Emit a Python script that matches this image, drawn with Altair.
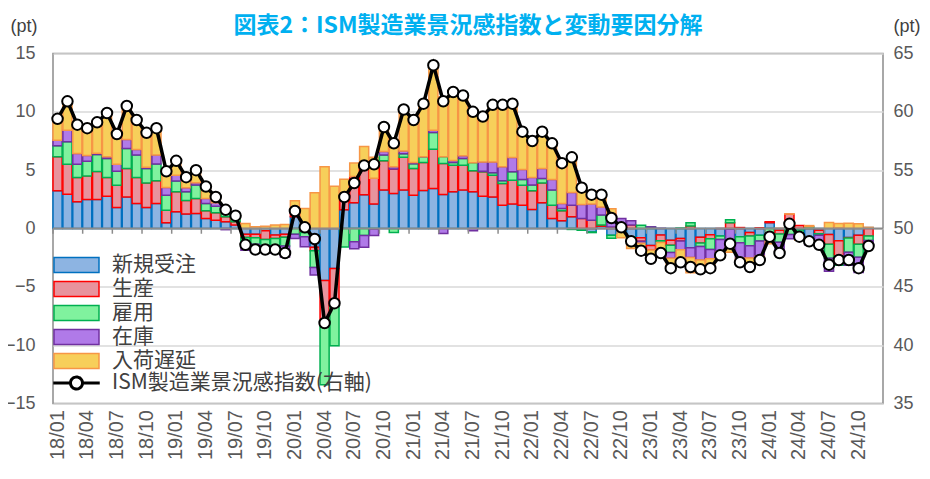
import altair as alt
import pandas as pd

months = [f"{y:02d}/{m:02d}" for y in range(18, 25) for m in range(1, 13)]
tick_labels = [m for m in months if m[3:] in ("01", "04", "07", "10")]
series = ["新規受注", "生産", "雇用", "在庫", "入荷遅延"]
line_name = "ISM製造業景況感指数(右軸)"

new_orders = [3.23, 2.94, 2.29, 2.49, 2.49, 2.77, 1.80, 2.71, 2.14, 1.80, 2.14, 0.49,
              1.43, 1.25, 1.29, 0.86, 0.71, 0.57, 0.29, -0.49, -0.50, -0.20, -0.55, -0.50,
              1.00, -0.20, -1.60, -4.45, -3.43, 1.60, 2.20, 2.90, 2.10, 3.30, 3.00, 3.30,
              2.85, 3.25, 3.43, 2.91, 3.14, 3.29, 3.14, 2.77, 2.71, 2.00, 2.09, 2.00,
              1.63, 2.20, 0.86, 0.66, 1.00, -0.05, -0.30, 0.20, -0.58, -0.16, -0.70, -0.80,
              -1.45, -0.55, -1.00, -0.86, -1.65, -0.75, -0.54, -0.64, -0.07, -0.70, -0.34, -0.58,
              0.50, -0.16, 0.28, -0.12, -1.00, -0.14, -0.52, -1.05, -0.78, -0.58, 0.08, None]
production = [2.91, 2.57, 2.08, 2.00, 2.40, 1.60, 1.91, 2.43, 2.23, 2.11, 1.95, 1.08,
              1.71, 1.15, 1.29, 0.66, 0.63, 0.43, 0.28, -0.28, -0.30, -0.75, -0.30, -0.25,
              0.57, -0.15, -0.30, -3.75, -3.00, 1.10, 2.25, 2.30, 2.20, 2.50, 2.10, 2.80,
              2.30, 2.40, 3.37, 2.66, 2.29, 2.14, 1.80, 2.09, 1.86, 1.86, 2.05, 1.71,
              1.60, 1.71, 1.14, 0.86, 1.00, 0.86, 0.70, 0.10, 0.12, 0.40, 0.30, -0.30,
              -0.40, -0.50, -0.44, -0.22, 0.22, -0.50, -0.34, 0.00, 0.50, 0.08, -0.30, 0.06,
              0.08, -0.32, 0.95, 0.26, 0.00, -0.30, -0.82, -1.30, -0.04, -0.76, -0.64, None]
employment = [0.95, 1.92, 1.14, 1.28, 1.45, 1.63, 1.20, 1.72, 1.92, 1.23, 1.43, 1.29,
              0.94, 0.75, 1.14, 0.63, 0.57, 0.40, 0.29, -0.52, -0.55, -0.50, -0.65, -0.75,
              -0.49, -0.35, -1.45, -5.20, -3.63, -1.58, -1.14, -0.60, -0.05, 0.50, -0.35, 0.30,
              0.40, 0.50, 1.43, 0.57, 0.23, 0.57, 0.70, 0.05, 0.20, 0.23, 0.72, 0.49,
              0.49, 0.37, 1.29, 0.20, -0.08, -0.10, -0.05, 0.85, -0.26, 0.00, -0.32, 0.28,
              0.12, -0.16, -0.62, 0.04, 0.28, -0.30, -0.93, -0.30, 0.24, -0.52, -0.84, -0.50,
              -0.58, -0.69, -0.52, -0.28, 0.15, -0.14, -1.22, -0.80, -1.22, -1.12, -0.38, None]
inventories = [0.48, 1.00, 0.92, 0.49, 0.10, 0.14, 0.60, 0.77, 0.48, 0.10, 0.77, 0.66,
               0.49, 0.35, 0.20, 0.43, 0.29, -0.10, 0.00, -0.57, -0.63, -0.55, -0.60, -0.94,
               -0.37, -0.87, -0.63, 0.00, 0.00, 0.03, -0.60, -1.00, -0.55, 0.30, 0.20, 0.25,
               0.10, 0.00, 0.20, -0.43, 0.17, 0.23, -0.20, 0.80, 0.94, 1.20, 1.23, 0.86,
               0.66, 0.86, 0.91, 0.43, 1.08, 1.20, 1.40, 0.70, 1.10, 0.45, 0.36, -0.16,
               0.02, 0.02, -0.50, -0.74, -0.84, -1.14, -0.78, -1.07, -1.24, -1.34, -1.04, -1.30,
               -0.54, -0.94, -0.36, -0.36, -0.40, -0.75, -1.10, 0.06, -1.12, -1.31, -0.57, None]
deliveries = [1.77, 2.43, 2.42, 2.31, 2.61, 3.71, 2.63, 2.87, 2.51, 2.96, 2.28, 1.42,
              1.20, 0.87, 1.08, 1.04, 0.51, 0.27, 0.24, 0.43, 0.15, 0.20, 0.30, 0.35,
              0.80, 1.71, 3.06, 5.30, 3.63, 1.50, 1.16, 1.82, 1.80, 2.10, 2.33, 3.50,
              3.60, 4.55, 5.57, 5.16, 5.87, 5.14, 4.56, 3.86, 4.86, 5.28, 4.62, 3.28,
              3.13, 3.20, 3.14, 3.42, 3.14, 1.57, 1.10, 1.00, 0.48, -0.64, -0.70, -0.88,
              -0.88, -0.95, -0.87, -1.08, -1.30, -0.80, -0.78, -0.28, -0.72, -0.46, -0.76, -0.40,
              -0.18, 0.02, 0.02, -0.22, 0.10, -0.04, 0.52, 0.37, 0.44, 0.40, 0.02, None]
ism = [59.4, 60.9, 58.9, 58.6, 59.1, 59.9, 58.1, 60.5, 59.3, 58.2, 58.6, 54.9,
       55.8, 54.4, 55.0, 53.6, 52.7, 51.6, 51.1, 48.6, 48.2, 48.2, 48.2, 47.9,
       51.5, 50.1, 49.1, 41.9, 43.6, 52.7, 53.9, 55.4, 55.5, 58.7, 57.3, 60.2,
       59.3, 60.7, 64.0, 60.9, 61.7, 61.4, 60.0, 59.6, 60.6, 60.6, 60.7, 58.3,
       57.5, 58.3, 57.3, 55.6, 56.1, 53.5, 52.9, 52.9, 50.9, 50.1, 48.9, 48.1,
       47.4, 47.9, 46.6, 47.1, 46.7, 46.5, 46.6, 47.7, 48.7, 47.1, 46.7, 47.3,
       49.3, 47.9, 50.4, 49.3, 48.9, 48.6, 46.9, 47.3, 47.3, 46.6, 48.5, None]

fills = ["#8DB4E2", "#E8939D", "#80F29E", "#B07AE8", "#F7CF5A"]
strokes = ["#0070C0", "#FF0000", "#00B050", "#7030A0", "#F79646"]

comps = [new_orders, production, employment, inventories, deliveries]
rows = []
for i, m in enumerate(months):
    for k, s in enumerate(series):
        v = comps[k][i]
        if v is not None:
            rows.append({"month": m, "comp": s, "ord": k, "value": v})
bar_df = pd.DataFrame(rows)
line_df = pd.DataFrame({"month": months, "ism": ism, "name": line_name}).dropna()
tick_df = pd.DataFrame({"month": tick_labels, "value": 0.0, "value2": -0.45})
zero_df = pd.DataFrame({"value": [0.0]})

LBL = "#595959"
xscale = alt.Scale(domain=months, paddingInner=0.08, paddingOuter=0)
x_axis = alt.Axis(values=tick_labels, labelAngle=270, title=None, ticks=False,
                  domain=False, grid=False, labelFont="Liberation Sans",
                  labelFontSize=20, labelColor=LBL, labelPadding=6)
x_enc = alt.X("month:O", scale=xscale, axis=x_axis)
x_tick = alt.X("month:O", scale=xscale, axis=x_axis, bandPosition=0)

yscale = alt.Scale(domain=[-15, 15], nice=False)
y_axis = alt.Axis(values=[-15, -10, -5, 0, 5, 10, 15], title="(pt)", titleAngle=0,
                  titleX=-43, titleY=-22, titleAlign="left", titleBaseline="alphabetic",
                  titleFont="Liberation Sans", titleFontSize=18, titleFontWeight="normal",
                  titleColor="#404040", grid=True, gridColor="#D9D9D9", gridWidth=1.3,
                  ticks=False, domain=False, labelFont="Liberation Sans",
                  labelFontSize=18, labelColor=LBL, labelPadding=18)
y_left = alt.Y("value:Q", stack="zero", scale=yscale, axis=y_axis)
y_plain = alt.Y("value:Q", stack=None, scale=yscale, axis=y_axis)

bar_legend = alt.Legend(title=None, orient="none", legendX=13, legendY=201, padding=0,
                        symbolType="M-3,-1H3V1H-3Z", symbolSize=225, symbolStrokeWidth=1.5,
                        symbolOpacity=1, labelFont="Noto Sans CJK JP", labelFontSize=21,
                        labelColor="#404040", labelOffset=25, rowPadding=2, labelLimit=0)
bars = alt.Chart(bar_df).mark_bar(strokeWidth=1.5).encode(
    x=x_enc,
    y=y_left,
    fill=alt.Fill("comp:N", scale=alt.Scale(domain=series, range=fills), legend=bar_legend),
    stroke=alt.Stroke("comp:N", scale=alt.Scale(domain=series, range=strokes), legend=bar_legend),
    order=alt.Order("ord:Q", sort="ascending"),
)
zero = alt.Chart(zero_df).mark_rule(color="#8C8C8C", strokeWidth=2).encode(y=y_plain)
ticks = alt.Chart(tick_df).mark_rule(color="#8C8C8C", strokeWidth=1.5).encode(
    x=x_tick, y=y_plain, y2="value2:Q")
left = alt.layer(bars, zero, ticks)

line_sym = "M-3.1,0H-0.8M0.8,0H3.1M0.8,0A0.8,0.8,0,1,1,-0.8,0A0.8,0.8,0,1,1,0.8,0"
line_legend = alt.Legend(title=None, orient="none", legendX=13, legendY=319, padding=0,
                         symbolType=line_sym, symbolSize=225, symbolStrokeWidth=3,
                         symbolStrokeColor="black", symbolFillColor="white", symbolOpacity=1,
                         labelFont="Noto Sans CJK JP", labelFontSize=21, labelColor="#404040",
                         labelOffset=25, labelLimit=0)
y_right = alt.Y("ism:Q", scale=alt.Scale(domain=[35, 65], nice=False),
                axis=alt.Axis(orient="right", values=[35, 40, 45, 50, 55, 60, 65], title="(pt)",
                              titleAngle=0, titleX=10, titleY=-22, titleAlign="left",
                              titleBaseline="alphabetic", titleFont="Liberation Sans",
                              titleFontSize=18, titleFontWeight="normal", titleColor="#404040",
                              grid=False, ticks=False, domain=False, labelFont="Liberation Sans",
                              labelFontSize=18, labelColor=LBL, labelPadding=10))
line = alt.Chart(line_df).mark_line(color="black", strokeWidth=3.5).encode(
    x=x_enc, y=y_right,
    strokeDash=alt.StrokeDash("name:N", scale=alt.Scale(domain=[line_name], range=[[1, 0]]),
                              legend=line_legend))
points = alt.Chart(line_df).mark_point(filled=True, fill="white", stroke="black",
                                       strokeWidth=2, size=110, opacity=1).encode(
    x=x_enc, y=y_right)
right = alt.layer(line, points)

chart = alt.layer(left, right).resolve_scale(y="independent").properties(
    width=830, height=350,
    autosize=alt.AutoSizeParams(type="none"),
    padding={"left": 45, "top": 45.5, "right": 38, "bottom": 70},
    title=alt.TitleParams("図表2：ISM製造業景況感指数と変動要因分解", fontSize=23,
                          font="Noto Sans CJK JP", fontWeight="bold", color="#00B0F0",
                          anchor="middle", frame="group", offset=-20),
).configure_view(stroke="#8C8C8C", strokeWidth=1.5)

chart.save("out.html", embed_options={"renderer": "svg", "actions": False})
